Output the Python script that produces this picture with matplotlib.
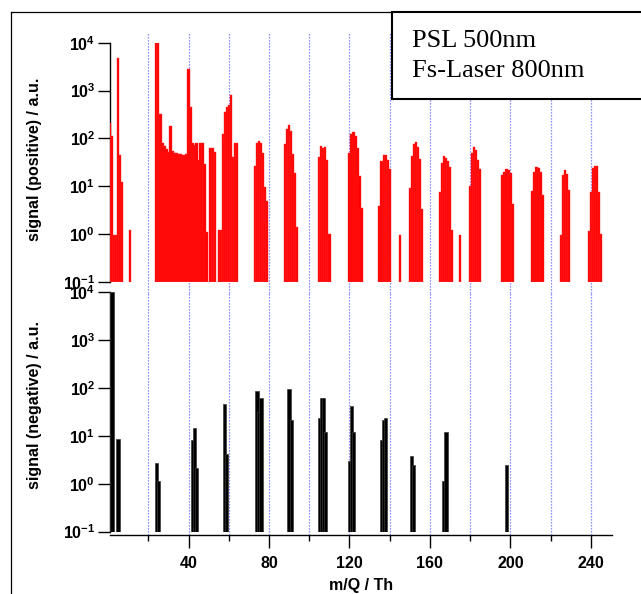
#!/usr/bin/env python3
"""
PSL 500nm / fs-laser 800nm: positive and negative ion mass spectra
Two stacked log panels sharing the m/Q axis
"""

import matplotlib
matplotlib.use('Agg')
import matplotlib.pyplot as plt
from matplotlib.patches import Rectangle
from matplotlib.lines import Line2D
from matplotlib.ticker import FixedLocator, NullLocator

# Data
pos_mz = [1, 2, 3, 4, 5, 6, 7, 11,
          24, 25, 26, 27, 28, 29, 30, 31, 32, 33, 34, 35, 36, 37, 38, 39,
          40, 41, 42, 43, 44, 45, 46, 47, 48, 49,
          51, 52, 53, 55, 56, 57, 58, 59, 60, 61, 62, 63, 64,
          73, 74, 75, 76, 77, 78, 79,
          88, 89, 90, 91, 92, 93, 94,
          105, 106, 107, 108, 109, 110,
          120, 121, 122, 123, 124, 125, 126,
          135, 136, 137, 138, 139, 140,
          145,
          150, 151, 152, 153, 154, 155, 156,
          165, 166, 167, 168, 169, 170, 171,
          175,
          180, 181, 182, 183, 184, 185,
          196, 197, 198, 199, 200, 201,
          211, 212, 213, 214, 215, 216,
          225, 226, 227, 228, 229,
          239, 240, 241, 242, 243, 244, 245]
pos_signal = [207, 114, 0.96, 0.96, 4700, 45, 12.5, 1.2,
              10000, 10000, 324, 79, 69, 59, 51, 183, 55, 50, 49, 48, 47, 46, 46, 48,
              2800, 457, 81, 72, 79, 35, 81, 81, 29, 1.1,
              62, 62, 53, 1.2, 1.2, 122, 363, 457, 500, 800, 40, 79, 79,
              26, 81, 90, 81, 49, 9.8, 4.9,
              75, 157, 192, 140, 47, 18.6, 1.4,
              40, 70, 62, 65, 35.5, 1.0,
              50.6, 123, 135, 115, 62, 16.7, 3.6,
              3.85, 33, 45, 44, 36, 23,
              0.95,
              9.2, 42, 78, 84, 67, 38, 3.3,
              7.5, 30, 43, 38.5, 33, 25, 1.25,
              0.95,
              10.1, 49, 65.5, 56, 35.5, 22.6,
              17.2, 20.2, 22.6, 21.6, 19, 4.2,
              8, 20, 25, 24, 20, 6.5,
              0.95, 17.5, 21.5, 17.8, 8.5,
              1.15, 7.7, 24.5, 26, 26, 7.7, 1.0]

neg_mz = [2, 5, 24, 25, 42, 43, 44, 58, 59, 74, 75, 76, 90, 91,
          105, 106, 107, 108, 120, 121, 122, 136, 137, 138,
          151, 152, 167, 168, 198]
neg_signal = [10000, 8.7, 2.67, 1.14, 8.2, 14.4, 2.1, 46, 4.2, 87, 32, 61, 94, 21.5,
              24, 61, 61, 11.9, 3.0, 43, 11.9, 8.2, 21, 23.3,
              3.7, 2.5, 1.14, 12.2, 2.5]

decades = [-1, 0, 1, 2, 3, 4]
grid_mz = list(range(20, 241, 20))
major_mz = [40, 80, 120, 160, 200, 240]
minor_mz = [20, 60, 100, 140, 180, 220]

legend_lines = ['PSL 500nm', 'Fs-Laser 800nm']

# Style
plt.rcParams['font.family'] = 'Liberation Sans'
plt.rcParams['mathtext.fontset'] = 'custom'
plt.rcParams['mathtext.rm'] = 'Liberation Sans'
plt.rcParams['mathtext.bf'] = 'Liberation Sans:bold'

W, H = 641, 594
YMIN, YMAX = 0.1, 1e4
XMIN, XMAX = 0.97, 250.5
grid_color = '#6a6aff'


def fx(px):
    return px / W


def fy(py):
    return 1 - py / H


fig = plt.figure(figsize=(W / 100, H / 100), dpi=100)
fig.patch.set_facecolor('white')

# axes placed in pixel units of the reference
ax_pos = fig.add_axes([fx(110), fy(282), 502 / W, (282 - 42.7) / H])
ax_neg = fig.add_axes([fx(110), fy(531.5), 502 / W, (531.5 - 292.3) / H])

for ax in (ax_pos, ax_neg):
    ax.set_yscale('log')
    ax.set_ylim(YMIN, YMAX)
    ax.set_xlim(XMIN, XMAX)
    ax.set_facecolor('none')
    ax.yaxis.set_major_locator(FixedLocator([10.0 ** d for d in decades]))
    ax.yaxis.set_minor_locator(NullLocator())
    ax.set_yticklabels([r'$\mathbf{10^{%d}}$' % d for d in decades])
    ax.tick_params(axis='y', direction='out', length=8.6, width=1.0,
                   labelsize=11.5, pad=2)
    ax.spines['top'].set_visible(False)
    ax.spines['right'].set_visible(False)
    ax.spines['left'].set_linewidth(1.0)

# top panel: no x axis
ax_pos.spines['bottom'].set_visible(False)
ax_pos.tick_params(axis='x', bottom=False, labelbottom=False)

# bottom panel x axis, shifted slightly down like the original
ax_neg.spines['bottom'].set_position(('outward', 2.5))
ax_neg.spines['bottom'].set_linewidth(1.0)
ax_neg.xaxis.set_major_locator(FixedLocator(major_mz))
ax_neg.xaxis.set_minor_locator(FixedLocator(minor_mz))
ax_neg.set_xticklabels([str(v) for v in major_mz], fontweight='bold')
ax_neg.tick_params(axis='x', which='major', direction='out', length=9,
                   width=1.0, labelsize=11.5, pad=6.5)
ax_neg.tick_params(axis='x', which='minor', direction='out', length=4.2,
                   width=1.0)

# dotted blue grid, running through the gap between panels
for g in grid_mz:
    ax_pos.axvline(g, ymin=-0.045, ymax=1.04, clip_on=False, color=grid_color,
                   linewidth=0.9, linestyle=(0, (1, 1.4)), zorder=1)
    ax_neg.axvline(g, ymin=-0.015, ymax=1.0, clip_on=False, color=grid_color,
                   linewidth=0.9, linestyle=(0, (1, 1.4)), zorder=1)

# bars start at the bottom of the log axis
ax_pos.bar(pos_mz, [v - YMIN for v in pos_signal], bottom=YMIN, width=1.15,
           color='#ff0000', edgecolor='#ff3030', linewidth=0.3, zorder=3)
ax_neg.bar(neg_mz, [v - YMIN for v in neg_signal], bottom=YMIN, width=1.6,
           color='black', edgecolor='#3a3a3a', linewidth=0.5, zorder=3)

# axis labels
ax_pos.set_ylabel('signal (positive) / a.u.', fontsize=11.5, fontweight='bold')
ax_pos.yaxis.set_label_coords(-0.135, 0.514)
ax_neg.set_ylabel('signal (negative) / a.u.', fontsize=11.5, fontweight='bold')
ax_neg.yaxis.set_label_coords(-0.135, 0.529)
ax_neg.set_xlabel('m/Q / Th', fontsize=11.5, fontweight='bold')
ax_neg.xaxis.set_label_coords(0.5, -0.194)

# outer frame (left and top edges only are visible)
fig.add_artist(Line2D([fx(11), fx(11)], [fy(12), 0.0], color='black',
                      linewidth=0.9))
fig.add_artist(Line2D([fx(11), 1.0], [fy(12), fy(12)], color='black',
                      linewidth=0.9))

# legend box
fig.add_artist(Rectangle((fx(392), fy(99)), (660 - 392) / W, (99 - 12) / H,
                         transform=fig.transFigure, facecolor='white',
                         edgecolor='black', linewidth=1.5, zorder=5))
for i, line in enumerate(legend_lines):
    fig.text(fx(411.5), fy(46.7 + 30 * i), line, fontfamily='Liberation Serif',
             fontsize=19, va='baseline', ha='left', zorder=6)

fig.savefig('out.png', dpi=100, facecolor='white')
print('saved out.png')
